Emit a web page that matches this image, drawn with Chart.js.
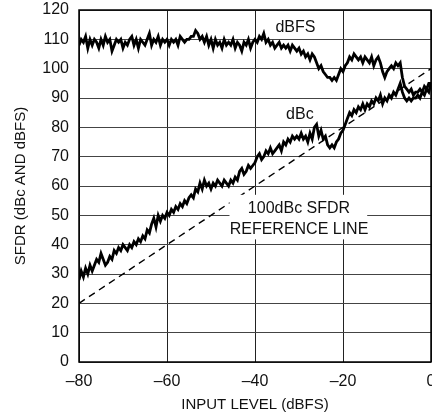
<!DOCTYPE html>
<html>
<head>
<meta charset="utf-8">
<script src="https://cdn.jsdelivr.net/npm/chart.js@4/dist/chart.umd.min.js"></script>
<style>
  html, body { margin: 0; padding: 0; background: #fff; }
  #wrap { width: 432px; height: 419px; position: relative; }
</style>
</head>
<body>
<div id="wrap"><canvas id="sfdrChart"></canvas></div>
<script>
// SFDR vs input level (0.5dB steps from -80 to 0)
const dbfs = [
  108, 110, 109, 111, 107, 110, 108, 110, 109, 107, 110,
  108, 111, 109, 110, 106, 108, 110, 109, 110, 107,
  109, 108, 110, 111, 108, 110, 107, 110, 109, 108,
  110, 112, 108, 110, 109, 111, 108, 110, 109, 110,
  108, 110, 109, 110, 108, 111, 110, 109, 110, 110,
  111, 111, 113, 112, 110, 111, 109, 111, 108, 110,
  107, 110, 108, 109, 107, 110, 108, 109, 108, 110,
  107, 109, 108, 106, 109, 108, 110, 107, 109, 110,
  109, 111, 110, 112, 109, 110, 108, 109, 107, 108,
  109, 107, 108, 107, 108, 106, 108, 107, 106, 107,
  105, 106, 104, 105, 103, 105, 104, 102, 100, 101,
  99, 98, 97, 97, 96, 97, 96, 98, 100, 99,
  101, 102, 104, 103, 105, 104, 103, 104, 102, 104,
  103, 102, 104, 101, 103, 104, 102, 99, 97, 99,
  100, 101, 100, 102, 101, 102, 97, 94, 93, 92,
  93, 91, 92, 92, 93, 92, 94, 93, 95, 95
];
const dbc = [
  28, 31, 29, 32, 30, 33, 31, 33, 35, 34, 37,
  35, 33, 34, 36, 35, 38, 37, 39, 38, 40,
  39, 38, 40, 39, 41, 40, 42, 41, 43, 42,
  45, 44, 47, 49, 46, 50, 48, 50, 49, 51,
  50, 52, 51, 53, 52, 54, 53, 55, 54, 56,
  57, 56, 59, 58, 61, 59, 62, 60, 61, 59,
  61, 60, 62, 61, 60, 62, 61, 60, 62, 61,
  63, 62, 65, 66, 64, 65, 67, 66, 67, 68,
  70, 71, 69, 70, 72, 71, 73, 71, 72, 73,
  74, 72, 75, 74, 76, 75, 77, 76, 77, 76,
  78, 76, 77, 75, 78, 76, 80, 81, 77, 79,
  76, 77, 74, 73, 74, 73, 75, 76, 78, 79,
  81, 83, 85, 84, 86, 85, 87, 86, 88, 86,
  88, 87, 89, 88, 90, 89, 91, 88, 90, 89,
  91, 90, 92, 91, 93, 95, 92, 90, 89, 90,
  89, 90, 90, 91, 90, 92, 91, 93, 92, 95
];
// sample grid of the sweep
const inputLevel = dbc.map((_, i) => -80 + i * 0.5);

// 100dBc SFDR reference line end points
const refX = [-80, 0];
const refY = [20, 100];

const xTicks = [-80, -60, -40, -20, 0];

const FONT = "'Liberation Sans', Arial, sans-serif";

// --- frame, label box and curve names ---
const notesPlugin = {
  id: "notes",
  afterDatasetsDraw(chart) {
    const { ctx, chartArea: a, scales: { x, y } } = chart;
    ctx.save();

    // white box behind the reference line caption
    const bx1 = x.getPixelForValue(-45.8), bx2 = x.getPixelForValue(-14.5);
    const by1 = y.getPixelForValue(57), by2 = y.getPixelForValue(41.8);
    ctx.fillStyle = "#fff";
    ctx.fillRect(bx1, by1, bx2 - bx1, by2 - by1);

    ctx.fillStyle = "#111";
    ctx.font = "16px " + FONT;
    ctx.textAlign = "center";
    ctx.textBaseline = "middle";
    const cx = x.getPixelForValue(-30);
    ctx.fillText("100dBc SFDR", cx, y.getPixelForValue(52.2));
    ctx.fillText("REFERENCE LINE", cx, y.getPixelForValue(45.3));
    ctx.fillText("dBFS", x.getPixelForValue(-30.8), y.getPixelForValue(114));
    ctx.fillText("dBc", x.getPixelForValue(-29.8), y.getPixelForValue(84.2));

    // plot frame
    ctx.strokeStyle = "#000";
    ctx.lineWidth = 1.5;
    ctx.strokeRect(a.left, a.top, a.right - a.left, a.bottom - a.top);
    ctx.restore();
  }
};

new Chart(document.getElementById("sfdrChart"), {
  type: "line",
  data: {
    datasets: [
      {
        label: "100dBc SFDR reference",
        data: refX.map((v, i) => ({ x: v, y: refY[i] })),
        borderColor: "#000",
        borderWidth: 1.4,
        borderDash: [7, 5],
        pointRadius: 0
      },
      {
        label: "dBFS",
        data: inputLevel.map((v, i) => ({ x: v, y: dbfs[i] })),
        borderColor: "#000",
        borderWidth: 2.8,
        pointRadius: 0,
        tension: 0
      },
      {
        label: "dBc",
        data: inputLevel.map((v, i) => ({ x: v, y: dbc[i] })),
        borderColor: "#000",
        borderWidth: 2.8,
        pointRadius: 0,
        tension: 0
      }
    ]
  },
  options: {
    responsive: true,
    maintainAspectRatio: false,
    animation: false,
    layout: { padding: { top: 10, right: 1, left: 0, bottom: 0 } },
    plugins: {
      legend: { display: false },
      tooltip: { enabled: false }
    },
    scales: {
      x: {
        type: "linear",
        min: -80,
        max: 0,
        afterBuildTicks: (scale) => { scale.ticks = xTicks.map(v => ({ value: v })); },
        afterFit: (scale) => {
          scale.height = 57;
          scale.paddingLeft = 0;
          scale.paddingRight = 0;
        },
        ticks: {
          color: "#111",
          padding: 10,
          maxRotation: 0,
          font: { family: FONT, size: 16 },
          callback: (v) => (v < 0 ? "\u2013" + Math.abs(v) : String(v))
        },
        grid: { color: "#222", lineWidth: 1, drawTicks: false },
        border: { display: false },
        title: {
          display: true,
          text: "INPUT LEVEL (dBFS)",
          color: "#111",
          font: { family: FONT, size: 15 },
          padding: { top: 0, bottom: 5 }
        }
      },
      y: {
        min: 0,
        max: 120,
        afterFit: (scale) => {
          scale.width = 79;
          scale.paddingTop = 0;
          scale.paddingBottom = 0;
        },
        ticks: {
          stepSize: 10,
          color: "#111",
          padding: 10,
          font: { family: FONT, size: 16 }
        },
        grid: { color: "#444", lineWidth: 1, drawTicks: false },
        border: { display: false },
        title: {
          display: true,
          text: "SFDR (dBc AND dBFS)",
          color: "#111",
          font: { family: FONT, size: 15 },
          padding: { top: 12, bottom: 0 }
        }
      }
    }
  },
  plugins: [notesPlugin]
});
</script>
</body>
</html>
